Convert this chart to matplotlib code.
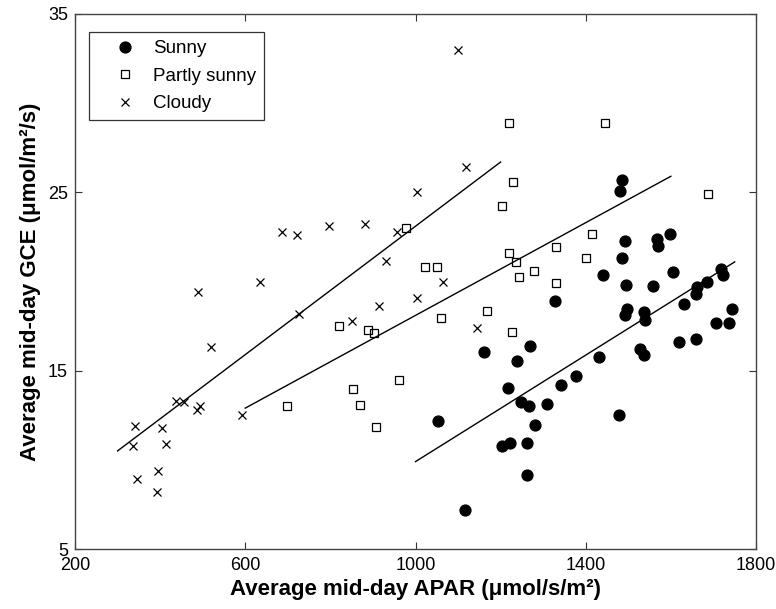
import matplotlib
matplotlib.use("Agg")
import matplotlib.pyplot as plt
import numpy as np

plt.rcParams['font.family'] = ['Liberation Sans', 'DejaVu Sans']

# ---- data ----
sunny_x = [1484, 1481, 1599, 1492, 1567, 1569, 1485, 1440, 1495, 1558, 1606, 1718,
           1723, 1686, 1661, 1660, 1632, 1744, 1706, 1737, 1498, 1493, 1537, 1539,
           1620, 1659, 1528, 1538, 1431, 1376, 1341, 1310, 1477, 1327, 1269, 1160,
           1238, 1217, 1247, 1267, 1281, 1054, 1204, 1223, 1261, 1263, 1116]
sunny_y = [25.7, 25.1, 22.67, 22.27, 22.37, 22.0, 21.34, 20.38, 19.79, 19.73, 20.55, 20.72,
           20.35, 20.0, 19.68, 19.32, 18.74, 18.48, 17.68, 17.66, 18.46, 18.1, 18.27, 17.84,
           16.63, 16.8, 16.23, 15.9, 15.79, 14.69, 14.18, 13.15, 12.52, 18.9, 16.37, 16.03,
           15.54, 14.01, 13.26, 13.02, 11.97, 12.16, 10.76, 10.96, 10.93, 9.15, 7.17]

partly_x = [1219, 1445, 1228, 1203, 1687, 1220, 1236, 1329, 1414, 1401, 1278, 1243,
            1330, 1023, 1050, 1167, 1060, 1227, 821, 889, 903, 961, 854, 870, 908, 697, 977]
partly_y = [28.9, 28.9, 25.6, 24.25, 24.9, 21.6, 21.1, 21.95, 22.65, 21.3, 20.6, 20.25,
            19.9, 20.8, 20.8, 18.35, 17.95, 17.15, 17.5, 17.3, 17.1, 14.45, 14.0, 13.1, 11.85, 13.0, 23.0]

cloudy_x = [1100, 1118, 1004, 797, 881, 956, 686, 722, 931, 1065, 635, 490, 1004, 915,
            850, 1145, 726, 519, 437, 455, 487, 494, 592, 342, 405, 337, 413, 395, 346, 393]
cloudy_y = [33.0, 26.4, 25.0, 23.1, 23.2, 22.8, 22.8, 22.6, 21.15, 20.0, 20.0, 19.4, 19.1, 18.6,
            17.8, 17.4, 18.2, 16.35, 13.3, 13.25, 12.8, 13.0, 12.5, 11.9, 11.8, 10.8, 10.9, 9.4, 8.9, 8.2]

# regression lines: (x range) and (y at ends)
sunny_fit_x = [1000, 1750]
sunny_fit_y = [9.9, 21.1]
partly_fit_x = [600, 1600]
partly_fit_y = [12.9, 25.9]
cloudy_fit_x = [300, 1200]
cloudy_fit_y = [10.5, 26.7]

x_ticks = [200, 600, 1000, 1400, 1800]
x_tick_labels = ['200', '600', '1000', '1400', '1800']
y_ticks = [5, 15, 25, 35]
y_tick_labels = ['5', '15', '25', '35']

fig = plt.figure(figsize=(7.76, 6.09), dpi=100)
ax = fig.add_axes([75/776, 1-549/609, (756-75)/776, (549-14)/609])

ax.plot(sunny_x, sunny_y, 'o', color='black', markersize=7.8, linestyle='none', label='Sunny')
ax.plot(partly_x, partly_y, 's', markerfacecolor='none', markeredgecolor='black',
        markersize=6.3, markeredgewidth=0.9, linestyle='none', label='Partly sunny')
ax.plot(cloudy_x, cloudy_y, 'x', color='black', markersize=5.5, markeredgewidth=0.9,
        linestyle='none', label='Cloudy')

for fx, fy in [(sunny_fit_x, sunny_fit_y), (partly_fit_x, partly_fit_y), (cloudy_fit_x, cloudy_fit_y)]:
    ax.plot(fx, fy, '-', color='black', linewidth=1.0)

ax.set_xlim(200, 1800)
ax.set_ylim(5, 35)
ax.set_xticks(x_ticks)
ax.set_xticklabels(x_tick_labels)
ax.set_yticks(y_ticks)
ax.set_yticklabels(y_tick_labels)
ax.tick_params(direction='in', length=5, width=0.8, top=True, right=True,
               labelsize=13, color='#333333')
ax.tick_params(axis='x', pad=6)
ax.tick_params(axis='y', pad=5)
for s in ax.spines.values():
    s.set_color('#444444')
    s.set_linewidth(1.0)

ax.set_xlabel('Average mid-day APAR (\u03bcmol/s/m\u00b2)', fontsize=16, fontweight='bold', labelpad=3)
ax.set_ylabel('Average mid-day GCE (\u03bcmol/m\u00b2/s)', fontsize=16, fontweight='bold', labelpad=5)

leg = ax.legend(loc='upper left', bbox_to_anchor=(0.0206, 0.966), fontsize=13.5,
                frameon=True, fancybox=False, markerscale=1.0, handlelength=3.0,
                handletextpad=0.0, borderpad=0.42, labelspacing=0.55, borderaxespad=0)
leg.get_frame().set_edgecolor('black')
leg.get_frame().set_linewidth(0.9)

fig.savefig('out.png', dpi=100)
